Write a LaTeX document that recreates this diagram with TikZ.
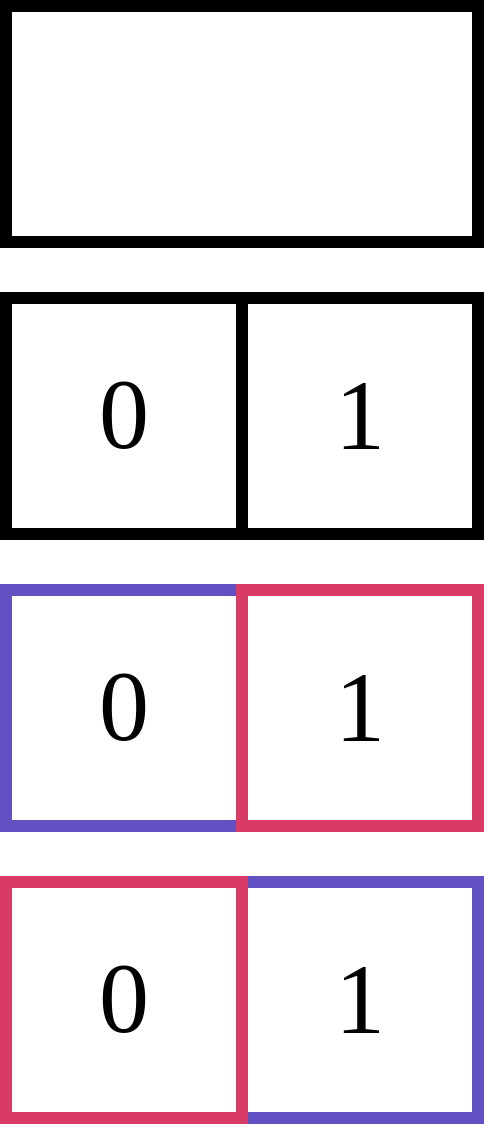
\documentclass[tikz,border=0pt]{standalone}
\usepackage{fontspec}
\setmainfont{Liberation Serif}
\definecolor{bluecell}{HTML}{6150C1}
\definecolor{redcell}{HTML}{D83B66}
\begin{document}
\begin{tikzpicture}
        [x=1pt, y=1pt,
        cell/.style={draw, rectangle, line width=12pt, minimum width=236pt, minimum height=236pt, inner sep=0pt, font=\fontsize{100}{100}\selectfont},
        wide/.style={cell, minimum width=472pt}]

        \useasboundingbox (0,0) rectangle (484,-1124);

        % empty row
        \node[wide] (top) at (242,-124) {};

        % black cells
        \node[cell] (a0) at (124,-416) {0};
        \node[cell] (a1) at (360,-416) {1};

        % blue first, red on top
        \node[cell, draw=bluecell] (b0) at (124,-708) {0};
        \node[cell, draw=redcell] (b1) at (360,-708) {1};

        % swapped colours
        \node[cell, draw=bluecell] (c1) at (360,-1000) {1};
        \node[cell, draw=redcell] (c0) at (124,-1000) {0};

\end{tikzpicture}
\end{document}
